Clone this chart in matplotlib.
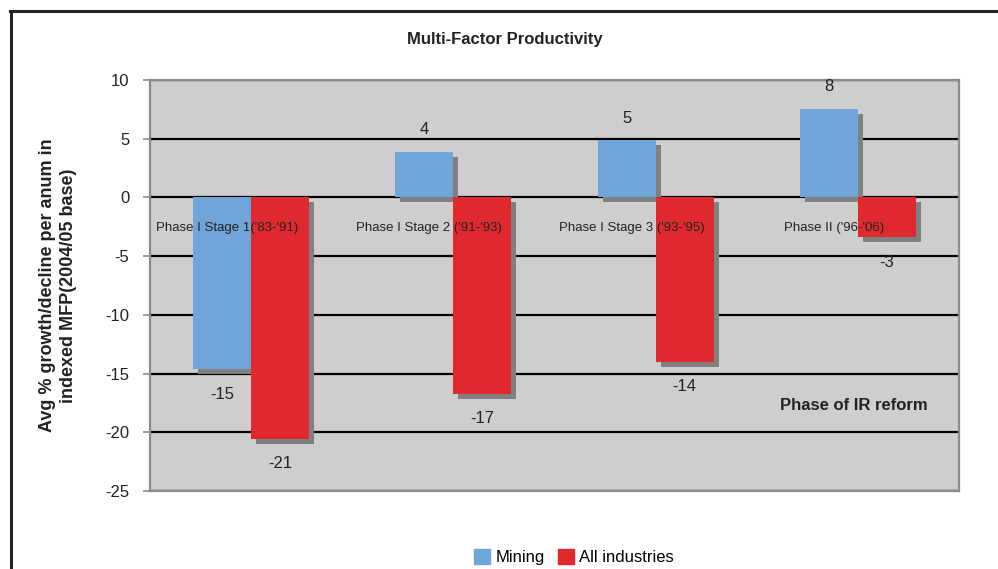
import matplotlib.pyplot as plt
import matplotlib.patheffects as pe
from matplotlib.lines import Line2D
from matplotlib.patches import Patch
import numpy as np

plt.rcParams['font.family'] = ['Liberation Sans', 'DejaVu Sans']
plt.rcParams['axes.unicode_minus'] = False

# data
phases = ["Phase I Stage 1('83-'91)", "Phase I Stage 2 ('91-'93)",
          "Phase I Stage 3 ('93-'95)", "Phase II ('96-'06)"]
mining = [-14.65, 3.9, 4.85, 7.55]
all_ind = [-20.6, -16.7, -14.0, -3.4]

c_blue = '#6fa5d8'
c_red = '#e0292f'
c_bg = '#cecece'
c_edge = '#8c8c8c'

fig = plt.figure(figsize=(9.98, 5.69), dpi=100)
ax = fig.add_axes([0.1503, 0.1371, 0.8106, 0.7223])
ax.set_facecolor(c_bg)

x = np.arange(len(phases))
w = 0.287
shadow = [pe.SimplePatchShadow(offset=(3.6, -3.6), shadow_rgbFace='#808080', alpha=1.0), pe.Normal()]

b1 = ax.bar(x - w / 2, mining, w, color=c_blue, zorder=3)
b2 = ax.bar(x + w / 2, all_ind, w, color=c_red, zorder=3)
for b in list(b1) + list(b2):
    b.set_path_effects(shadow)

# value labels
for xs, vals in [(x - w / 2, mining), (x + w / 2, all_ind)]:
    for xi, v in zip(xs, vals):
        off = 1.9 if v > 0 else -2.1
        ax.text(xi, v + off, f'{round(v):d}', ha='center', va='center', fontsize=12,
                color='#222222', zorder=5)

# category labels inside the plot
for xi, lab in zip(x, phases):
    ax.text(xi - 0.12, -2.6, lab, ha='center', va='center', fontsize=9.5, color='#222222', zorder=6)

ax.text(0.87, 0.207, 'Phase of IR reform', transform=ax.transAxes, ha='center', va='center',
        fontsize=12, fontweight='bold', color='#222222', zorder=6)

ax.set_xlim(-0.5, 3.5)
ax.set_ylim(-25, 10)
ax.set_yticks(np.arange(-25, 11, 5))
ax.set_xticks([])
ax.yaxis.grid(True, color='black', linewidth=1.6, zorder=1)
ax.set_axisbelow(True)
ax.tick_params(axis='y', direction='out', length=5, width=1.2, color=c_edge, labelsize=12,
               labelcolor='#222222', pad=10)
for s in ax.spines.values():
    s.set_color(c_edge)
    s.set_linewidth(1.6)

ax.set_ylabel('Avg % growth/decline per anum in\nindexed MFP(2004/05 base)', fontsize=13,
              fontweight='bold', color='#222222', labelpad=20, linespacing=1.35)

fig.text(0.506, 0.931, 'Multi-Factor Productivity', ha='center', va='center', fontsize=12,
         fontweight='bold', color='#222222')

handles = [Patch(color=c_blue), Patch(color=c_red)]
fig.legend(handles=handles, labels=['Mining', 'All industries'], loc='center',
           bbox_to_anchor=(0.575, 0.021), ncol=2, frameon=False, fontsize=12,
           handlelength=1.0, handleheight=1.0, handletextpad=0.3, columnspacing=0.8)

# outer frame
fig.add_artist(Line2D([0.0115, 0.0115], [0, 0.981], color='#222222', linewidth=2.2, transform=fig.transFigure))
fig.add_artist(Line2D([0.0105, 1.0], [0.981, 0.981], color='#222222', linewidth=2.2, transform=fig.transFigure))

fig.savefig('out.png', dpi=100)
